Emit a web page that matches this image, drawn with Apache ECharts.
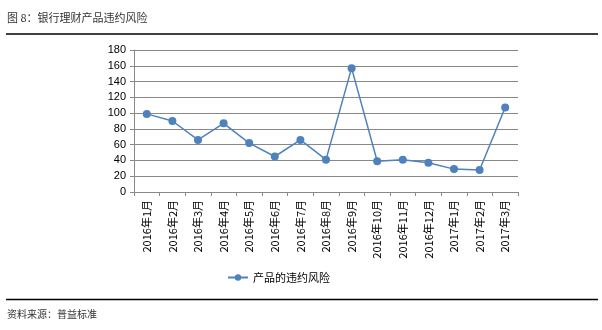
<!DOCTYPE html>
<html>
<head>
<meta charset="utf-8">
<script src="https://cdn.jsdelivr.net/npm/echarts@6/dist/echarts.min.js"></script>
<style>
html, body { margin: 0; padding: 0; background: #fff; }
#chart { width: 602px; height: 330px; }
</style>
</head>
<body>
<div id="chart"></div>
<script>
// Monthly default-risk count for bank wealth-management products
const months = ['2016年1月', '2016年2月', '2016年3月', '2016年4月', '2016年5月', '2016年6月',
  '2016年7月', '2016年8月', '2016年9月', '2016年10月', '2016年11月', '2016年12月',
  '2017年1月', '2017年2月', '2017年3月'];
const defaultRisk = [99, 90, 66, 87, 62, 45, 66, 41, 157, 39, 41, 37, 29, 28, 107];
const seriesName = '产品的违约风险';
const titleText = '图 8：银行理财产品违约风险';
const sourceText = '资料来源：普益标准';

const cjk = '"Noto Sans CJK SC", "Liberation Sans", sans-serif';
const lineColor = '#4F81BD';

const chart = echarts.init(document.getElementById('chart'));
chart.setOption({
  animation: false,
  backgroundColor: '#fff',
  title: [
    { text: titleText, left: 7, top: 12, padding: 0, textStyle: { fontSize: 11, fontWeight: 'normal', color: '#333', fontFamily: cjk } },
    { text: sourceText, left: 7, top: 309, padding: 0, textStyle: { fontSize: 10, fontWeight: 'normal', color: '#333', fontFamily: cjk } }
  ],
  graphic: [
    { type: 'line', shape: { x1: 6, y1: 34, x2: 598, y2: 34 }, style: { stroke: '#000', lineWidth: 1.5 } },
    { type: 'line', shape: { x1: 6, y1: 299.5, x2: 598, y2: 299.5 }, style: { stroke: '#000', lineWidth: 1.5 } }
  ],
  legend: {
    data: [seriesName],
    left: 227, top: 272, padding: 0,
    itemWidth: 20, itemHeight: 8, itemGap: 4,
    textStyle: { fontSize: 11, color: '#000', fontFamily: cjk }
  },
  grid: { left: 134, right: 84, top: 50, bottom: 138 },
  xAxis: {
    type: 'category',
    data: months,
    boundaryGap: true,
    axisLine: { lineStyle: { color: '#888', width: 1 } },
    axisTick: { show: true, length: 4, alignWithLabel: false, lineStyle: { color: '#888' } },
    axisLabel: { rotate: 90, interval: 0, margin: 8, fontSize: 11, color: '#000', fontFamily: cjk }
  },
  yAxis: {
    type: 'value',
    min: 0, max: 180, interval: 20,
    axisLine: { show: true, lineStyle: { color: '#888' } },
    axisTick: { show: true, length: 4, lineStyle: { color: '#888' } },
    splitLine: { lineStyle: { color: '#888', width: 1 } },
    axisLabel: { fontSize: 11, color: '#000', margin: 8, fontFamily: '"Liberation Sans", sans-serif' }
  },
  series: [{
    name: seriesName,
    type: 'line',
    data: defaultRisk,
    symbol: 'circle',
    symbolSize: 8,
    itemStyle: { color: lineColor },
    lineStyle: { color: lineColor, width: 1.5 }
  }]
});
</script>
</body>
</html>
